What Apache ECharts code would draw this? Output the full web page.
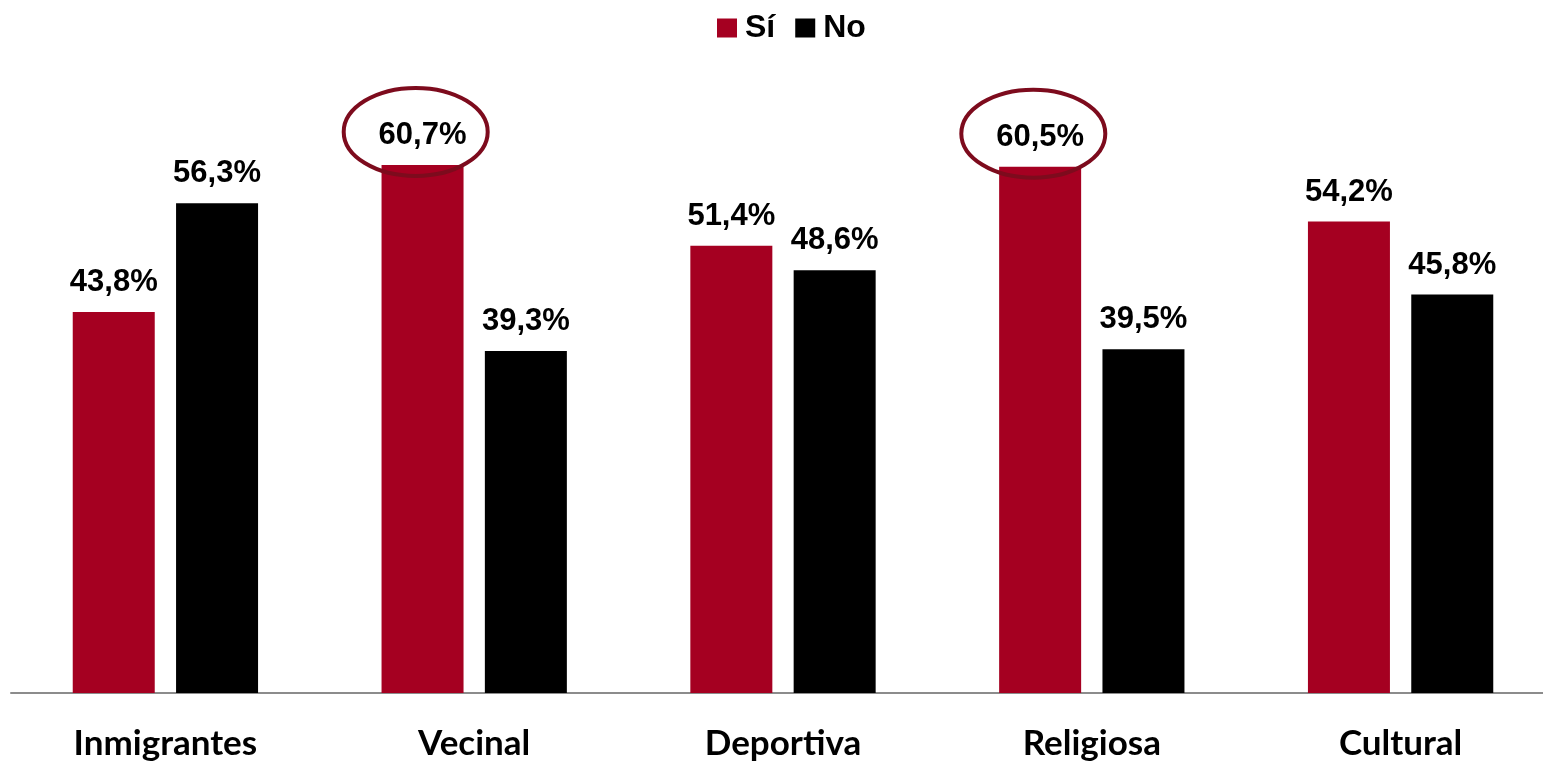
<!DOCTYPE html>
<html>
<head>
<meta charset="utf-8">
<script src="https://cdn.jsdelivr.net/npm/echarts@6/dist/echarts.min.js"></script>
<style>html,body{margin:0;padding:0;background:#fff}#c{width:1543px;height:761px}</style>
</head>
<body>
<div id="c"></div>
<script>
const categories = ['Inmigrantes', 'Vecinal', 'Deportiva', 'Religiosa', 'Cultural'];
const siValues = [43.8, 60.7, 51.4, 60.5, 54.2];
const noValues = [56.3, 39.3, 48.6, 39.5, 45.8];
const highlighted = [1, 3];

const labelFont = '"Liberation Sans Narrow", "Arial Narrow", "Liberation Sans", sans-serif';
const fmt = v => v.toFixed(1).replace('.', ',') + '%';

const chart = echarts.init(document.getElementById('c'));
const labelCfg = {
  show: true, position: 'top', distance: 14,
  fontFamily: labelFont, fontWeight: 'bold', fontSize: 31, color: '#000',
  formatter: p => fmt(p.value)
};
chart.setOption({
  animation: false,
  legend: {
    top: 7, left: 712, itemWidth: 20, itemHeight: 19, itemGap: 20,
    icon: 'rect',
    textStyle: { fontFamily: labelFont, fontWeight: 'bold', fontSize: 32, color: '#000', padding: [0, 0, 0, 3] },
    data: ['Sí', 'No']
  },
  grid: { left: 11, width: 1544, top: 84, bottom: 68, containLabel: false, outerBoundsMode: 'none' },
  xAxis: {
    type: 'category', data: categories,
    axisLine: { lineStyle: { color: '#8c8c8c', width: 2 } },
    axisTick: { show: false },
    axisLabel: { margin: 33, fontFamily: 'Lato, "Open Sans", sans-serif', fontWeight: 'bold', fontSize: 35, color: '#000' }
  },
  yAxis: { type: 'value', min: 0, max: 70, show: false, splitLine: { show: false } },
  series: [
    { name: 'Sí', type: 'bar', data: siValues, barWidth: 82, barGap: '26%', itemStyle: { color: '#A50021' }, label: labelCfg },
    { name: 'No', type: 'bar', data: noValues, barWidth: 82, itemStyle: { color: '#000000' }, label: labelCfg }
  ]
});

// ellipses around highlighted labels, positioned from the chart's own scales
const barOffset = -(82 + 21) / 2 - 7;
const graphics = highlighted.map(i => {
  const pt = chart.convertToPixel({ seriesIndex: 0 }, [i, siValues[i]]);
  return {
    type: 'ellipse', z: 100,
    shape: { cx: pt[0] + barOffset, cy: pt[1] - 33, rx: 72, ry: 44 },
    style: { fill: 'none', stroke: '#7D0B1D', lineWidth: 4 }
  };
});
chart.setOption({ graphic: graphics });
</script>
</body>
</html>
